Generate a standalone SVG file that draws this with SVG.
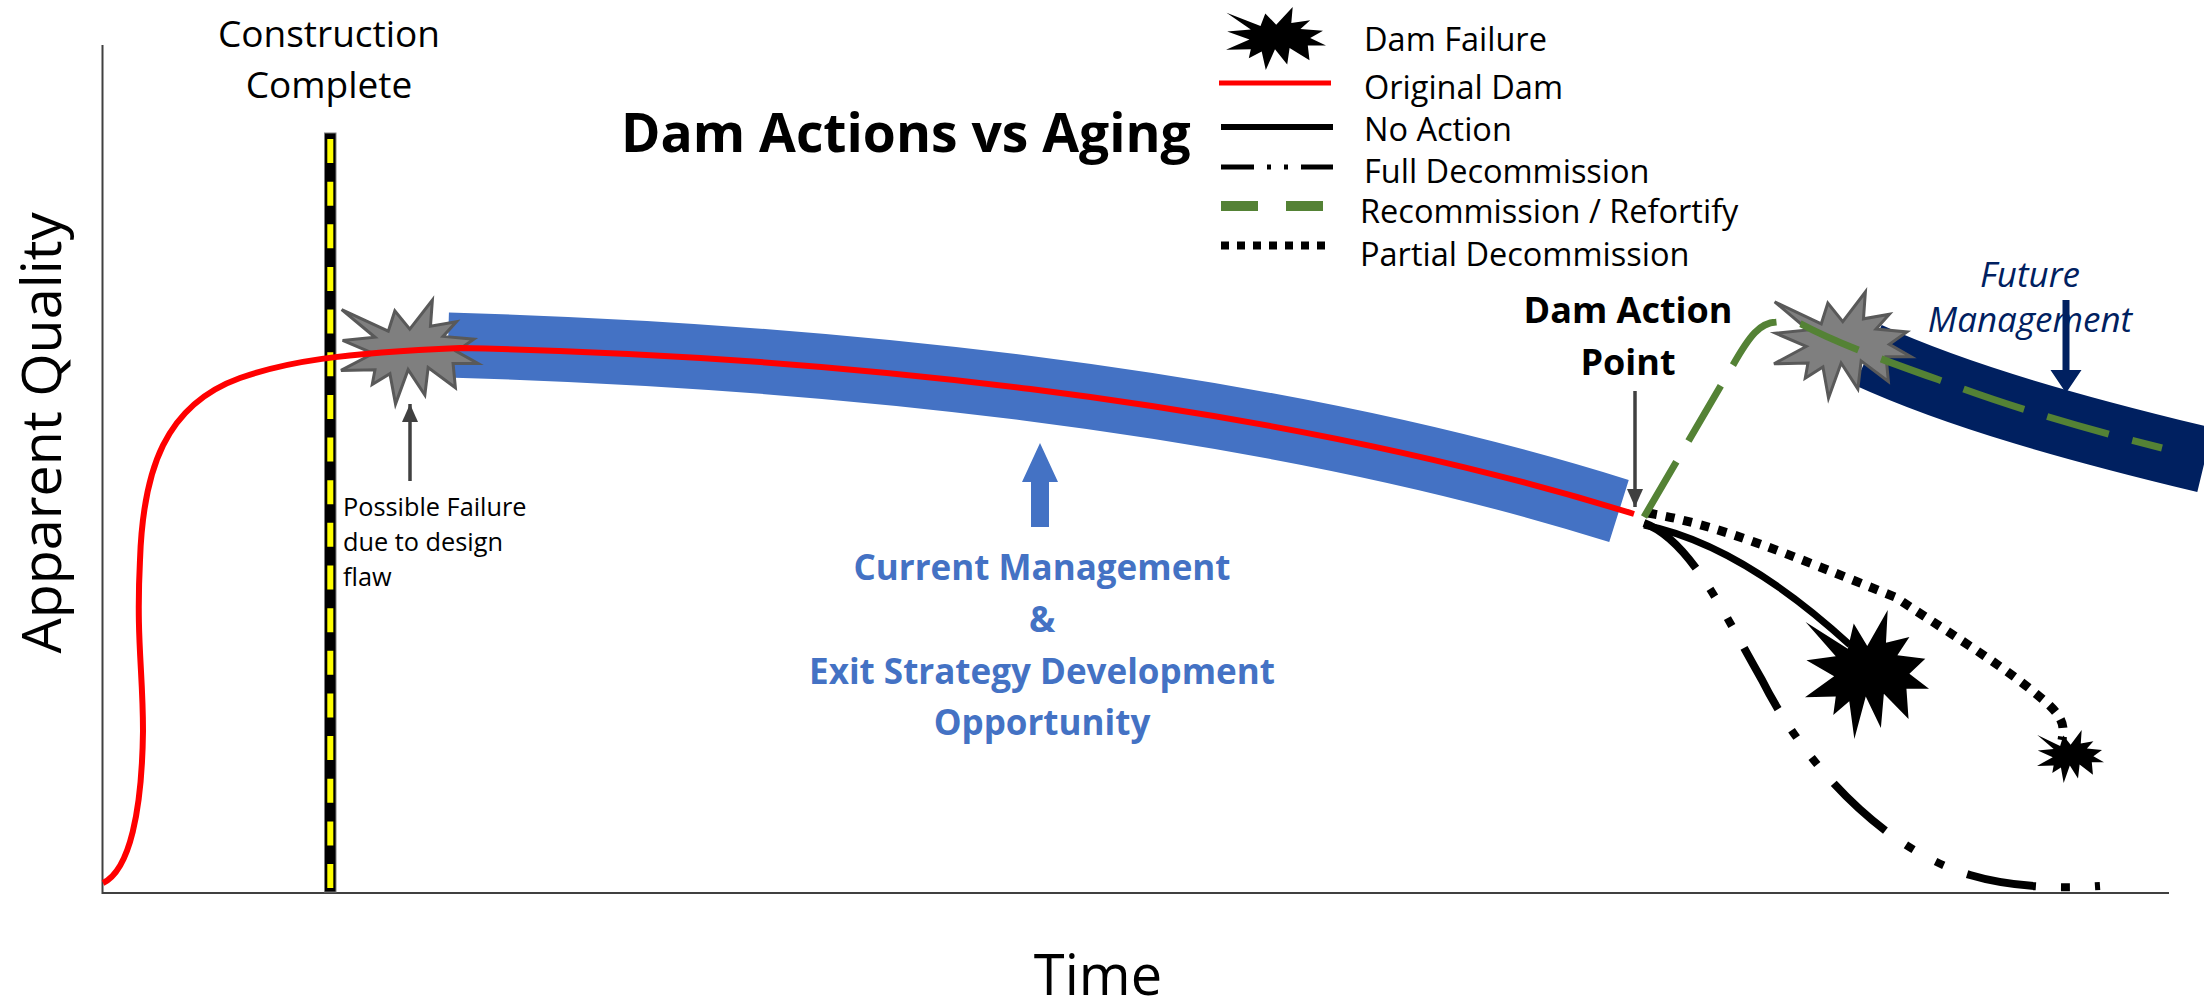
<svg xmlns="http://www.w3.org/2000/svg" width="2204" height="1008" viewBox="0 0 2204 1008">
<style>
text{font-family:"Open Sans","Noto Sans",sans-serif;fill:#000}
.l{fill:none}
.red{stroke:#f00;stroke-width:6}
.blk{stroke:#000;stroke-width:7}
.full{stroke:#000;stroke-width:8;stroke-dasharray:70 25 9 25 9 25}
.grn{stroke:#548235;stroke-width:7;stroke-dasharray:64 24}
.dot{stroke:#000;stroke-width:9;stroke-dasharray:9 9}
.gray{fill:#7f7f7f;stroke:#595959;stroke-width:3}
.bk{fill:#000}
.star{vector-effect:non-scaling-stroke}
.ptr{stroke:#404040;stroke-width:3.5;fill:none}
.blue{fill:#4472c4}
.navy{fill:#002060}
.leg{font-size:32.5px}
.cm{font-size:35px;font-weight:700;fill:#4472c4}
</style>
<defs>
<polygon id="burst" class="star" points="0.5,9.3 34.5,30 39.3,10.5 50.2,28 66.7,0 65.3,25.3 84.2,21 74.5,35 97,37.7 84.2,49.4 100,61 81.8,61 83.5,84.4 63.6,65 61.2,91.4 49,67 39.8,100 35.7,70.8 22.8,81.3 24.8,67 0,67.7 23.5,51.4 1.2,38.9 24.8,35.8"/>
<marker id="ah" markerUnits="userSpaceOnUse" markerWidth="18" markerHeight="20" refX="18" refY="8" orient="auto"><path d="M0,0L18,8L0,16Z" fill="#404040"/></marker>
</defs>
<g id="axes">
<path class="l" d="M102.5,45V893H2169" stroke="#404040" stroke-width="2"/>
</g>
<g id="current-band"><path class="l" d="M448,345C800,355 1250,395 1619,511" stroke="#4472c4" stroke-width="65"/></g>
<g id="future-band"><path class="l" d="M1868,355C1960,397 2080,430 2205,460" stroke="#002060" stroke-width="66"/></g>
<g id="construction-line">
<rect x="324.5" y="133" width="11.5" height="759" fill="#000" stroke="#7f7f7f" stroke-width="1"/>
<line x1="330.3" y1="139" x2="330.3" y2="892" stroke="#ff0" stroke-width="6" stroke-dasharray="24 18.65"/>
</g>
<g id="failure-design"><use href="#burst" class="gray" transform="translate(341,300) scale(1.37,1.04)"/></g>
<g id="failure-recommission"><use href="#burst" class="gray" transform="translate(1774,292) scale(1.37,1.06)"/></g>
<g id="failure-no-action"><use href="#burst" class="bk" transform="translate(1805,610) scale(1.24,1.29)"/></g>
<g id="failure-partial"><use href="#burst" class="bk" transform="translate(2037,730) scale(.67,.53)"/></g>
<g id="connectors">
<path class="l red" d="M103,883C130,870 142,810 143,731C143,670 136,640 140,560C143,470 165,405 240,378C285,362 340,353 460,348C800,355 1250,395 1634,514"/>
<path class="l blk" d="M1644,525C1720,540 1790,590 1850,645"/>
<path class="l full" d="M1644,523C1690,540 1722,610 1762,680C1802,760 1880,848 1970,875C2010,887 2060,889 2100,886"/>
<path class="l dot" d="M1648,513C1720,525 1790,555 1895,597C1960,640 2010,670 2048,704C2065,720 2064,728 2062,740"/>
<path class="l grn" d="M1644,517L1733,365C1750,335 1760,323 1776,322C1785,321 1795,322 1801,324C1840,345 1900,366 1942,381C2010,407 2090,430 2162,448"/>
<path class="ptr" d="M410,481V404" marker-end="url(#ah)"/>
<path class="ptr" d="M1635,391V507" marker-end="url(#ah)"/>
<path d="M2062.5,300h7v70h12l-15.500,23l-15.500,-23h12z" class="navy"/>
<path d="M1040,443l18,39h-9v45h-18v-45h-9z" class="blue"/>
</g>
<g id="legend">
<use href="#burst" class="bk" transform="translate(1226,7) scale(1,.63)"/>
<line x1="1219" y1="83" x2="1331" y2="83" stroke="#f00" stroke-width="5"/>
<line x1="1221" y1="127" x2="1333" y2="127" stroke="#000" stroke-width="6"/>
<line x1="1221" y1="167" x2="1333" y2="167" stroke="#000" stroke-width="5" stroke-dasharray="33 13 4 13 4 13 33"/>
<line x1="1221" y1="206" x2="1324" y2="206" stroke="#548235" stroke-width="10" stroke-dasharray="37 28"/>
<line x1="1221" y1="245.500" x2="1326" y2="245.500" stroke="#000" stroke-width="8" stroke-dasharray="8 8"/>
<text class="leg" x="1364" y="51">Dam Failure</text>
<text class="leg" x="1364" y="99">Original Dam</text>
<text class="leg" x="1364" y="141">No Action</text>
<text class="leg" x="1364" y="183">Full Decommission</text>
<text class="leg" x="1360" y="223">Recommission / Refortify</text>
<text class="leg" x="1360" y="266">Partial Decommission</text>
</g>
<g id="labels">
<text x="621" y="152" font-size="53.400" font-weight="700">Dam Actions vs Aging</text>
<text x="329" y="47" font-size="37" text-anchor="middle">Construction</text>
<text x="329" y="98" font-size="37" text-anchor="middle">Complete</text>
<text transform="translate(61,433) rotate(-90)" font-size="55.700" text-anchor="middle" x="0" y="0">Apparent Quality</text>
<text x="1098" y="995" font-size="56" text-anchor="middle">Time</text>
<text x="343" y="516" font-size="25.300">Possible Failure</text>
<text x="343" y="551" font-size="25.300">due to design</text>
<text x="343" y="586" font-size="25.300">flaw</text>
<text class="cm" x="1042" y="580" text-anchor="middle">Current Management</text>
<text class="cm" x="1042" y="632" text-anchor="middle">&amp;</text>
<text class="cm" x="1042" y="684" text-anchor="middle">Exit Strategy Development</text>
<text class="cm" x="1042" y="735" text-anchor="middle">Opportunity</text>
<text x="1628" y="323" font-size="36" font-weight="700" text-anchor="middle">Dam Action</text>
<text x="1628" y="375" font-size="36" font-weight="700" text-anchor="middle">Point</text>
<text x="2030" y="287" font-size="35" font-style="italic" text-anchor="middle" style="fill:#002060">Future</text>
<text x="2030" y="332" font-size="35" font-style="italic" text-anchor="middle" style="fill:#002060">Management</text>
</g>
</svg>
